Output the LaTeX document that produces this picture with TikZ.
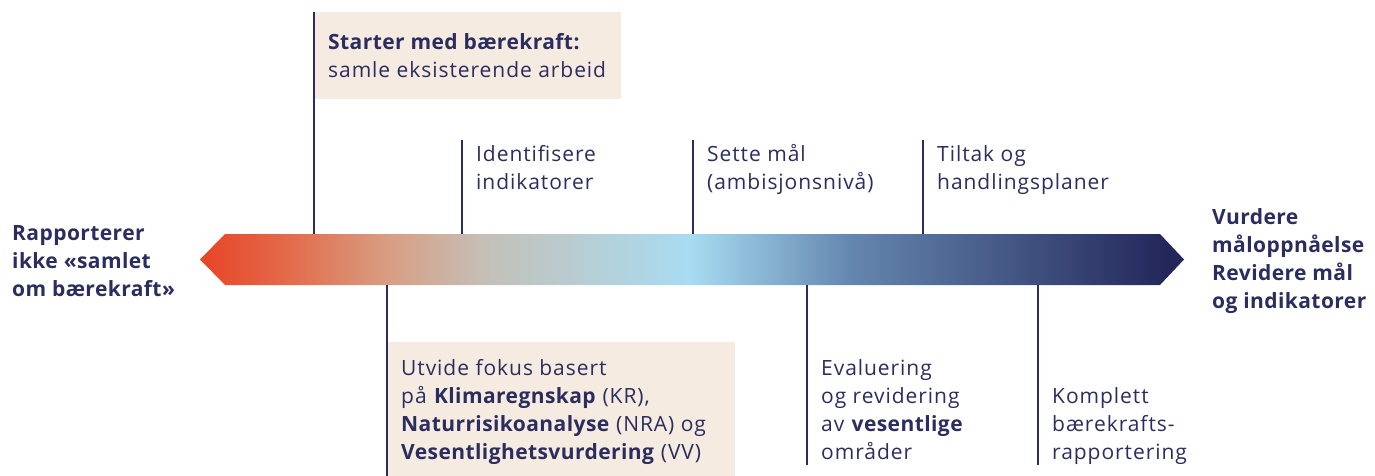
\documentclass[tikz,border=0pt]{standalone}
\usepackage{fontspec}
\setmainfont{Open Sans}[LetterSpace=4.5, BoldFeatures={LetterSpace=2}]
\definecolor{cRed}{RGB}{232,72,42}
\definecolor{cOr}{RGB}{226,112,80}
\definecolor{cTan}{RGB}{216,158,132}
\definecolor{cGray}{RGB}{196,192,184}
\definecolor{cLBlue}{RGB}{168,220,242}
\definecolor{cMBlue}{RGB}{100,135,175}
\definecolor{cNavy}{RGB}{35,38,90}
\definecolor{ink}{RGB}{42,45,94}
\definecolor{boxfill}{RGB}{245,235,225}
\pgfdeclarehorizontalshading{arrowshade}{100bp}{color(0bp)=(cRed); color(25.5bp)=(cRed); color(30bp)=(cOr); color(34.6bp)=(cTan); color(39.5bp)=(cGray); color(49.9bp)=(cLBlue); color(58bp)=(cMBlue); color(74.3bp)=(cNavy); color(100bp)=(cNavy)}
\newcommand\mylines[1]{\vtop{\baselineskip=28pt\lineskiplimit=-20pt #1}}
\tikzset{
  tick/.style={draw=ink, line width=2.8pt},
  lbl/.style={anchor=base west, inner sep=0pt, text=ink, font=\fontsize{21}{28}\selectfont},
  hl/.style={fill=boxfill, draw=none},
}
\begin{document}
\begin{tikzpicture}[x=1pt,y=-1pt]
\useasboundingbox (0,0) rectangle (1375,476);
% arrow
\path[shading=arrowshade] (200,259.5) -- (225,234) -- (1160,234) -- (1184,259.5) -- (1160,285) -- (225,285) -- cycle;
\coordinate (arr) at (692,259.5);
% boxes
\node[hl, minimum width=307pt, minimum height=87pt, anchor=north west, inner sep=0pt] (topbox) at (314,12) {};
\node[hl, minimum width=348pt, minimum height=134pt, anchor=north west, inner sep=0pt] (botbox) at (387,342) {};
% tick coordinates
\coordinate (t1a) at (314,12);  \coordinate (t1b) at (314,234);
\coordinate (t2a) at (462,140); \coordinate (t2b) at (462,234);
\coordinate (t3a) at (693,140); \coordinate (t3b) at (693,234);
\coordinate (t4a) at (923,140); \coordinate (t4b) at (923,234);
\coordinate (b1a) at (387,285); \coordinate (b1b) at (387,476);
\coordinate (b2a) at (807,285); \coordinate (b2b) at (807,465);
\coordinate (b3a) at (1038,285); \coordinate (b3b) at (1038,465);
\draw[tick] (t1a) -- (t1b);
\draw[tick] (t2a) -- (t2b);
\draw[tick] (t3a) -- (t3b);
\draw[tick] (t4a) -- (t4b);
\draw[tick] (b1a) -- (b1b);
\draw[tick] (b2a) -- (b2b);
\draw[tick] (b3a) -- (b3b);
% labels
\node[lbl] (lt) at (328,50) {\mylines{\hbox{\textbf{Starter med bærekraft:}}\hbox{samle eksisterende arbeid}}};
\node[lbl] (l2) at (476,161) {\mylines{\hbox{Identifisere}\hbox{indikatorer}}};
\node[lbl] (l3) at (707,161) {\mylines{\hbox{Sette mål}\hbox{(ambisjonsnivå)}}};
\node[lbl] (l4) at (937,161) {\mylines{\hbox{Tiltak og}\hbox{handlingsplaner}}};
\node[lbl] (left) at (12,240) {\mylines{\bfseries\hbox{Rapporterer}\hbox{ikke «samlet}\hbox{om bærekraft»}}};
\node[lbl] (right) at (1212,224) {\mylines{\bfseries\hbox{Vurdere}\hbox{måloppnåelse}\hbox{Revidere mål}\hbox{og indikatorer}}};
\node[lbl] (lb1) at (401,375) {\mylines{\hbox{Utvide fokus basert}\hbox{på \textbf{Klimaregnskap} (KR),}\hbox{\textbf{Naturrisikoanalyse} (NRA) og}\hbox{\textbf{Vesentlighetsvurdering} (VV)}}};
\node[lbl] (lb2) at (821,375) {\mylines{\hbox{Evaluering}\hbox{og revidering}\hbox{av \textbf{vesentlige}}\hbox{områder}}};
\node[lbl] (lb3) at (1052,403) {\mylines{\hbox{Komplett}\hbox{bærekrafts-}\hbox{rapportering}}};
\end{tikzpicture}
\end{document}
